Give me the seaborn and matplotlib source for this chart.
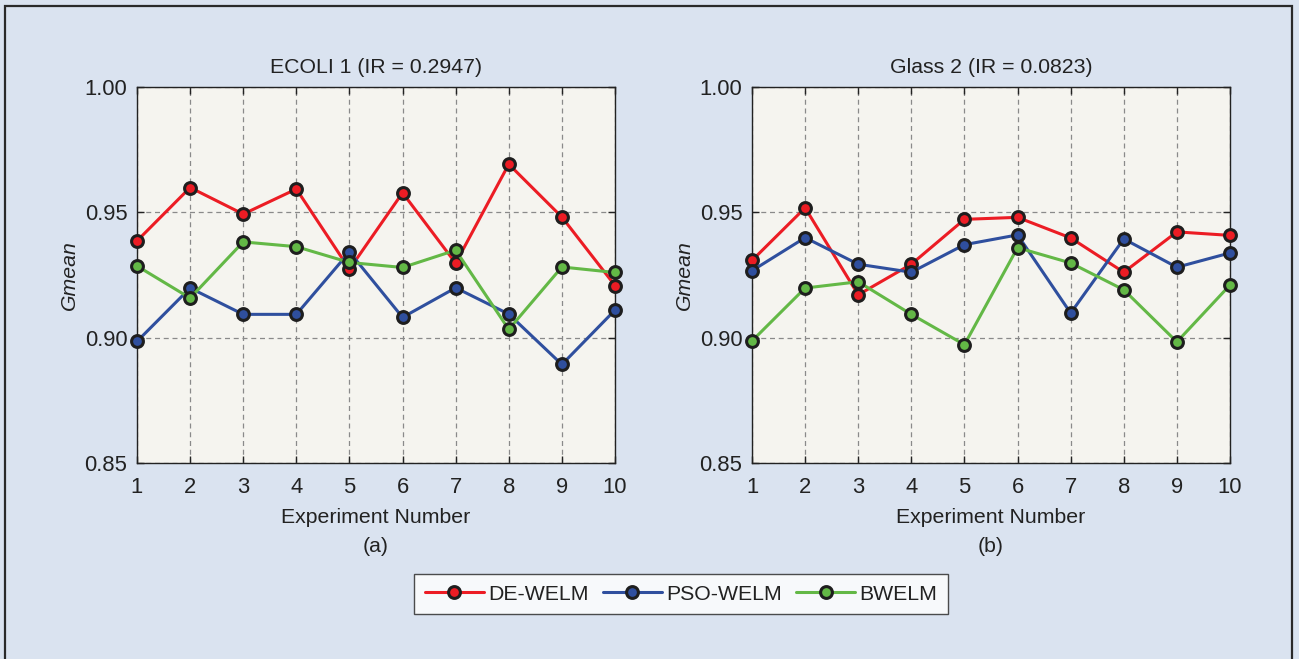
import numpy as np
import pandas as pd
import matplotlib
matplotlib.use("Agg")
import matplotlib.pyplot as plt
from matplotlib.patches import Rectangle
import seaborn as sns

# Experiment runs and Gmean scores per method
experiments = list(range(1, 11))
methods = ["DE-WELM", "PSO-WELM", "BWELM"]

ecoli_de = [0.9386, 0.9599, 0.9493, 0.9593, 0.9273, 0.9578, 0.9297, 0.9692, 0.9481, 0.9208]
ecoli_pso = [0.8985, 0.9198, 0.9093, 0.9093, 0.9342, 0.9081, 0.9199, 0.9094, 0.8893, 0.9110]
ecoli_bw = [0.9286, 0.9158, 0.9382, 0.9363, 0.9300, 0.9280, 0.9349, 0.9033, 0.9282, 0.9260]

glass_de = [0.9308, 0.9518, 0.9171, 0.9293, 0.9472, 0.9480, 0.9398, 0.9261, 0.9422, 0.9408]
glass_pso = [0.9267, 0.9399, 0.9293, 0.9261, 0.9371, 0.9410, 0.9098, 0.9394, 0.9281, 0.9338]
glass_bw = [0.8987, 0.9198, 0.9223, 0.9093, 0.8972, 0.9359, 0.9298, 0.9191, 0.8983, 0.9210]

titles = ["ECOLI 1 (IR = 0.2947)", "Glass 2 (IR = 0.0823)"]
panel_tags = ["(a)", "(b)"]
y_ticks = [0.85, 0.90, 0.95, 1.00]

colors = {"DE-WELM": "#ec1c24", "PSO-WELM": "#2f4f9e", "BWELM": "#63b846"}
fig_bg = "#dae3f0"
ax_bg = "#f5f4ef"
ink = "#222222"
fs = 15.3


def build_frame(de, pso, bw):
    rows = []
    for name, vals in zip(methods, [de, pso, bw]):
        for e, v in zip(experiments, vals):
            rows.append({"Experiment": e, "Gmean": v, "Method": name})
    return pd.DataFrame(rows)


frames = [build_frame(ecoli_de, ecoli_pso, ecoli_bw),
          build_frame(glass_de, glass_pso, glass_bw)]

sns.set_theme(style="white")
plt.rcParams["font.family"] = ["Liberation Sans", "DejaVu Sans"]
plt.rcParams["font.size"] = fs

fig = plt.figure(figsize=(12.99, 6.59), dpi=100, facecolor=fig_bg)

# dark frame around the whole figure
fig.patches.append(Rectangle((5 / 1299, -0.05), (1292 - 5) / 1299, 1.05 - 5.5 / 659,
                             transform=fig.transFigure, fill=False,
                             edgecolor="#2a2a2a", linewidth=1.6, zorder=0))

ax_w, ax_h = 478 / 1299, 376 / 659
ax_bottom = 196 / 659
lefts = [137 / 1299, 752 / 1299]

for i, df in enumerate(frames):
    ax = fig.add_axes([lefts[i], ax_bottom, ax_w, ax_h])
    ax.set_facecolor(ax_bg)
    sns.lineplot(data=df, x="Experiment", y="Gmean", hue="Method",
                 palette=colors, hue_order=methods, marker="o",
                 markersize=8.5, markeredgecolor="#1e1e1e", markeredgewidth=2.2,
                 linewidth=2.2, ax=ax, legend=(i == 0), zorder=3, clip_on=False)
    ax.set_xlim(1, 10)
    ax.set_ylim(0.85, 1.00)
    ax.set_xticks(experiments)
    ax.set_yticks(y_ticks)
    ax.set_yticklabels([f"{t:.2f}" for t in y_ticks])
    ax.grid(True, linestyle=(0, (4, 3)), color="#8a8a8a", linewidth=0.9)
    ax.tick_params(direction="in", length=5, width=1, color=ink,
                   top=True, right=True, bottom=True, left=True,
                   labelsize=15.8, labelcolor=ink)
    ax.tick_params(axis="x", pad=10)
    ax.tick_params(axis="y", pad=7)
    for s in ax.spines.values():
        s.set_color(ink)
        s.set_linewidth(1.0)
        s.set_visible(True)
    ax.set_title(titles[i], fontsize=fs, color=ink, pad=10)
    ax.set_xlabel("Experiment Number", fontsize=fs, color=ink, labelpad=7)
    ax.set_ylabel("Gmean", fontsize=fs, style="italic", color=ink, labelpad=4)
    ax.text(0.5, -0.223, panel_tags[i], transform=ax.transAxes, ha="center",
            va="center", fontsize=fs, color=ink)
    if i == 0:
        handles, labels = ax.get_legend_handles_labels()
        ax.get_legend().remove()

leg = fig.legend(handles, labels, loc="center", bbox_to_anchor=(681 / 1299, 1 - 594 / 659),
                 ncol=3, frameon=True, fancybox=False, fontsize=fs,
                 handlelength=2.8, handletextpad=0.2, columnspacing=0.65,
                 borderpad=0.5, borderaxespad=0, edgecolor=ink, facecolor="white")
leg.get_frame().set_linewidth(1.0)
for t in leg.get_texts():
    t.set_color(ink)

fig.savefig("out.png", dpi=100, facecolor=fig_bg)
